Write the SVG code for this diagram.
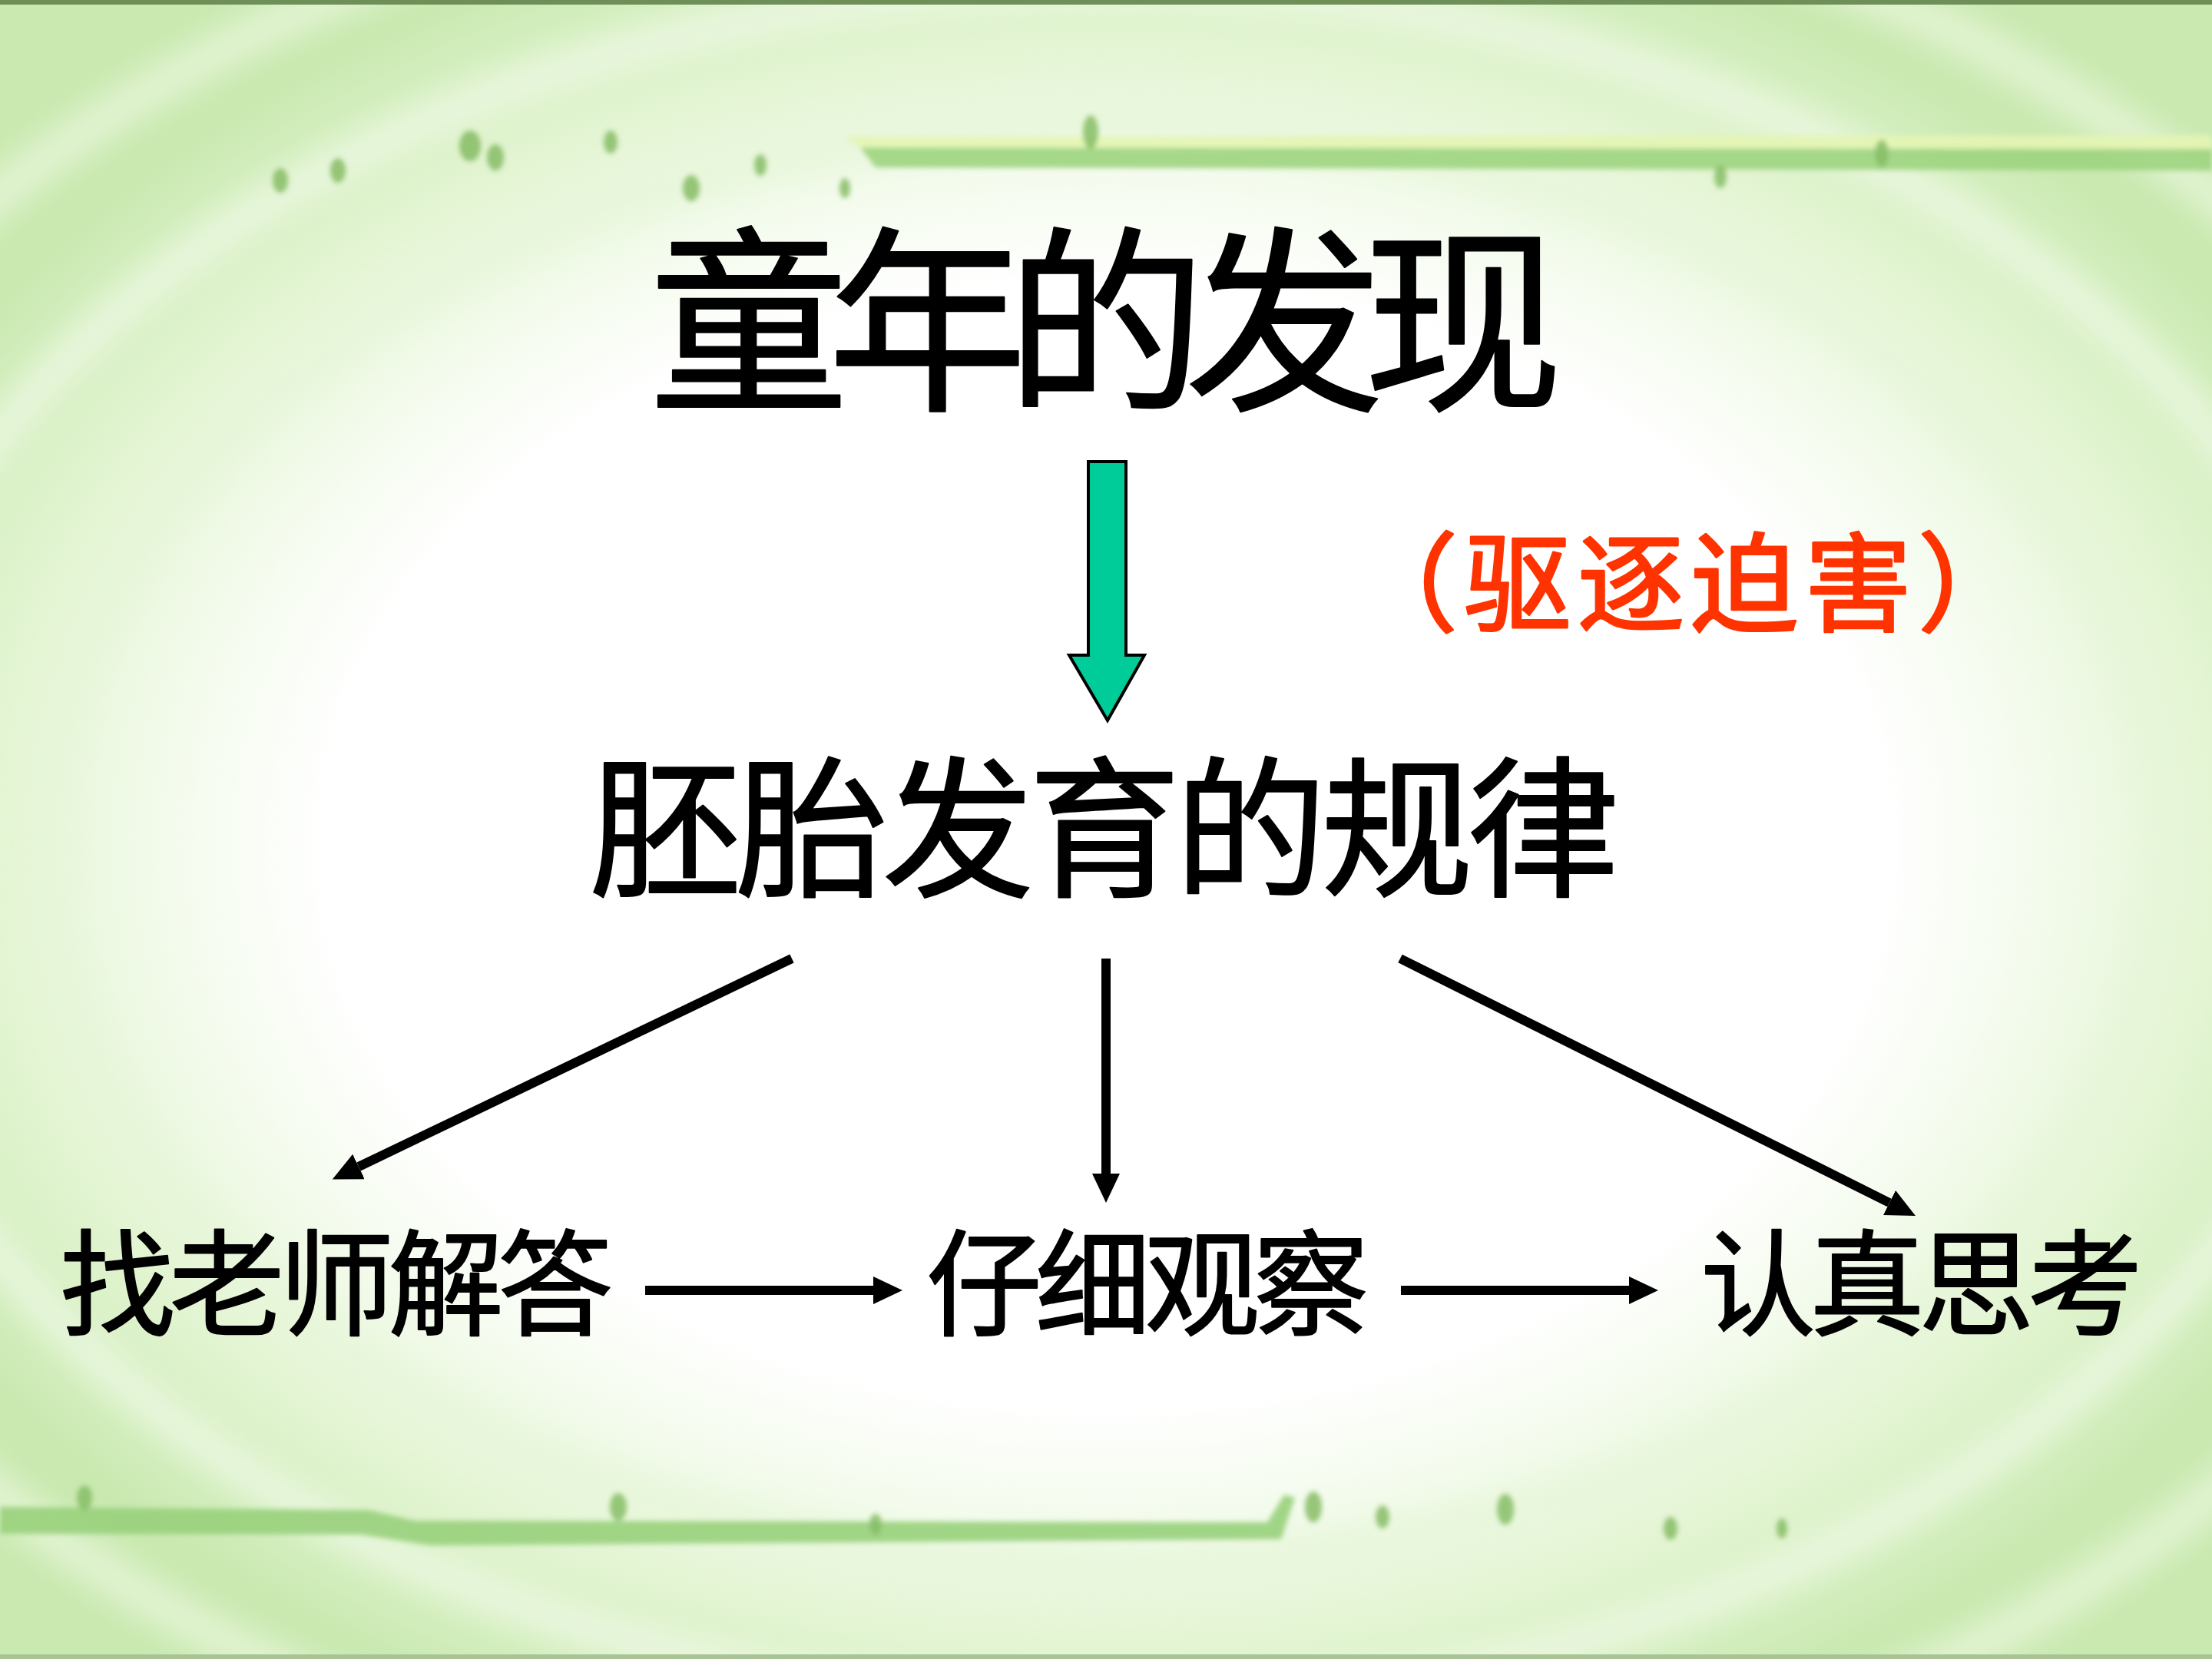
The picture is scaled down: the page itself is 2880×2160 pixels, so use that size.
<svg xmlns="http://www.w3.org/2000/svg" width="2880" height="2160" viewBox="0 0 2880 2160">
<style>
.t{font-family:"Noto Sans CJK SC","Noto Sans",sans-serif;fill:#000;font-weight:400;stroke:#000;stroke-linejoin:round;stroke-linecap:round}
.red{font-family:"Noto Sans CJK SC","Noto Sans",sans-serif;fill:#FF3300;stroke:#FF3300;stroke-width:3;stroke-linejoin:round;font-weight:400;font-feature-settings:"halt"}
.conn{stroke:#000;stroke-width:12;fill:none;marker-end:url(#ah)}
.ring{fill:none;filter:url(#blur)}
</style>
<defs>
<radialGradient id="bg" cx="1440" cy="1100" r="1750" gradientUnits="userSpaceOnUse" gradientTransform="translate(1440 1100) scale(1 0.72) translate(-1440 -1100)">
<stop offset="0" stop-color="#ffffff"/>
<stop offset="0.58" stop-color="#ffffff"/>
<stop offset="0.7" stop-color="#f3fbec"/>
<stop offset="0.82" stop-color="#e4f5d4"/>
<stop offset="0.93" stop-color="#d5efc0"/>
<stop offset="1" stop-color="#c9e9b0"/>
</radialGradient>
<filter id="blur" x="-20%" y="-20%" width="140%" height="140%"><feGaussianBlur stdDeviation="20"/></filter>
<filter id="blur2" x="-10%" y="-50%" width="120%" height="200%"><feGaussianBlur stdDeviation="3"/></filter>
<marker id="ah" viewBox="0 -18 38 36" markerWidth="38" markerHeight="36" refX="0" refY="0" orient="auto" markerUnits="userSpaceOnUse">
<path d="M0,-18 L38,0 L0,18 Z" fill="#000"/>
</marker>
</defs>

<g id="background">
<rect width="2880" height="2160" fill="url(#bg)"/>
<ellipse class="ring" cx="1440" cy="1100" rx="1380" ry="940" stroke="#e6f6d8" stroke-width="50" opacity="0.7"/>
<ellipse class="ring" cx="1440" cy="1100" rx="1640" ry="1120" stroke="#ffffff" stroke-width="40" opacity="0.5"/>
<ellipse class="ring" cx="1440" cy="1100" rx="1900" ry="1300" stroke="#f4fbea" stroke-width="50" opacity="0.6"/>
<rect x="0" y="0" width="2880" height="6" fill="#6f8f58"/>
<rect x="0" y="2154" width="2880" height="6" fill="#a9c296"/>
<g filter="url(#blur2)">
<path d="M1100,178 L2880,176 L2880,194 L1120,192 Z" fill="#e4f5b4" opacity="0.9"/>
<path d="M1120,192 L2880,194 L2880,222 L1140,218 Z" fill="#9dd47f" opacity="0.9"/>
<path d="M0,1962 L480,1966 L540,1980 L1650,1982 L1672,1946 L1686,1950 L1668,2004 L560,2012 L470,1998 L0,1997 Z" fill="#98d07c" opacity="0.9"/>
<g fill="#86bd66" opacity="0.85">
<ellipse cx="365" cy="235" rx="10" ry="16"/><ellipse cx="440" cy="222" rx="10" ry="16"/>
<ellipse cx="612" cy="190" rx="14" ry="20"/><ellipse cx="645" cy="205" rx="11" ry="17"/>
<ellipse cx="795" cy="185" rx="9" ry="15"/><ellipse cx="900" cy="245" rx="11" ry="17"/>
<ellipse cx="990" cy="215" rx="8" ry="14"/><ellipse cx="1100" cy="245" rx="7" ry="13"/>
<ellipse cx="1420" cy="172" rx="10" ry="22"/><ellipse cx="2450" cy="200" rx="9" ry="18"/>
<ellipse cx="2240" cy="230" rx="8" ry="15"/>
<ellipse cx="110" cy="1950" rx="10" ry="16"/><ellipse cx="805" cy="1962" rx="11" ry="18"/>
<ellipse cx="1140" cy="1985" rx="8" ry="14"/><ellipse cx="1710" cy="1962" rx="11" ry="20"/>
<ellipse cx="1800" cy="1975" rx="9" ry="15"/><ellipse cx="1960" cy="1965" rx="11" ry="20"/>
<ellipse cx="2175" cy="1990" rx="9" ry="15"/><ellipse cx="2320" cy="1990" rx="7" ry="13"/>
</g>
</g>
</g>

<g id="node-title">
<text class="t" x="1440" y="515" font-size="260" stroke-width="2" text-anchor="middle" textLength="1190" lengthAdjust="spacing">童年的发现</text>
</g>

<g id="node-expelled">
<text class="red" x="1828" y="811" font-size="140" textLength="739" lengthAdjust="spacing">（驱逐迫害）</text>
</g>

<g id="node-embryo">
<text class="t" x="1438" y="1152" font-size="198" stroke-width="2" text-anchor="middle" textLength="1341" lengthAdjust="spacing">胚胎发育的规律</text>
</g>

<g id="node-teacher">
<text class="t" x="438" y="1727" font-size="150" stroke-width="2" text-anchor="middle" textLength="720" lengthAdjust="spacing">找老师解答</text>
</g>

<g id="node-observe">
<text class="t" x="1494" y="1727" font-size="150" stroke-width="2" text-anchor="middle" textLength="576" lengthAdjust="spacing">仔细观察</text>
</g>

<g id="node-think">
<text class="t" x="2502" y="1727" font-size="150" stroke-width="2" text-anchor="middle" textLength="576" lengthAdjust="spacing">认真思考</text>
</g>

<g id="connectors">
<path id="green-arrow" d="M1417,601 L1466,601 L1466,853 L1490,853 L1442,938 L1392,853 L1417,853 Z" fill="#00CC99" stroke="#000" stroke-width="4" stroke-linejoin="miter"/>
<line class="conn" x1="1031" y1="1248" x2="467" y2="1519"/>
<line class="conn" x1="1440" y1="1248" x2="1440" y2="1528"/>
<line class="conn" x1="1823" y1="1248" x2="2460" y2="1566"/>
<line class="conn" x1="840" y1="1680" x2="1137" y2="1680"/>
<line class="conn" x1="1824" y1="1680" x2="2121" y2="1680"/>
</g>
</svg>
